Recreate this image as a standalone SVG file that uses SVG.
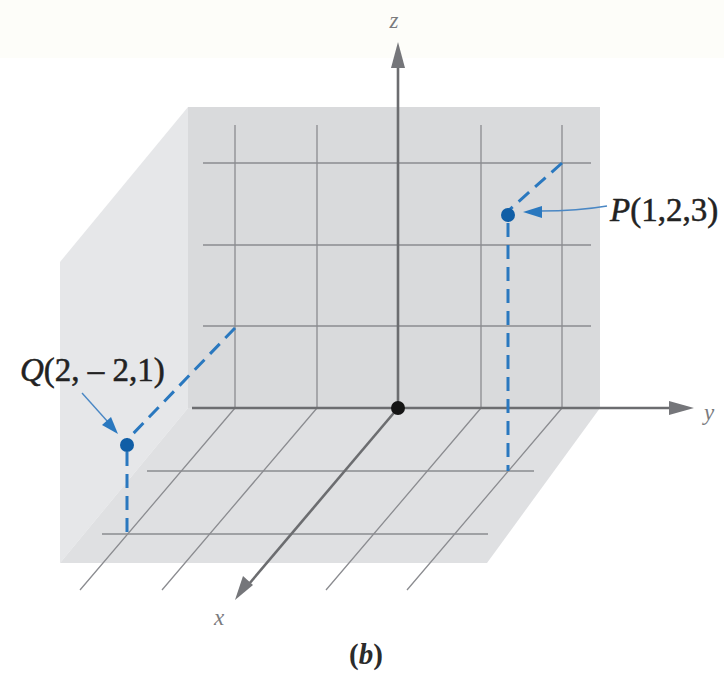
<svg xmlns="http://www.w3.org/2000/svg" width="724" height="675" viewBox="0 0 724 675">
<defs>
<style>
.grid{stroke:#8b8c90;stroke-width:1.3;fill:none}
.axis{stroke:#6c6d70;stroke-width:2.6;fill:none}
.head{fill:#75767a}
.dash{stroke:#2a78bf;stroke-width:3;stroke-dasharray:14 8;fill:none}
.lead{stroke:#4a87c4;stroke-width:1.4;fill:none}
.dot{fill:#105ea6}
.lbl{font-family:"Liberation Serif",serif;font-size:33px;fill:#222;stroke:#222;stroke-width:0.5}
.ax{font-family:"Liberation Serif",serif;font-style:italic;font-size:23px;fill:#7a7b7e}
</style>
</defs>
<rect width="724" height="675" fill="#ffffff"/>
<rect width="724" height="58" fill="#fdfdf9"/>
<g id="surfaces">
<polygon points="188,107 60,262 60,563 188,408" fill="#e6e7e9"/>
<rect x="188" y="107" width="412" height="301" fill="#d9dadc"/>
<polygon points="188,408 600,408 487,563 60,563" fill="#dfe0e2"/>
</g>
<g id="grid">
<path class="grid" d="M235,125V408 M317,125V408 M481,125V408 M562,125V408"/>
<path class="grid" d="M203,163H591 M203,245H591 M203,326H591"/>
<path class="grid" d="M235,408L80,590 M317,408L162,590 M481,408L326,590 M562,408L407,590"/>
<path class="grid" d="M147,471H534 M102,534H488"/>
</g>
<g id="connectors">
<line class="axis" x1="398" y1="408" x2="398" y2="64"/>
<polygon class="head" points="398,42 391,68 405,68"/>
<line class="axis" x1="192" y1="408" x2="674" y2="408"/>
<polygon class="head" points="694,408 669,401 669,415"/>
<line class="axis" x1="398" y1="408" x2="249" y2="584"/>
<polygon class="head" points="235,600 243,576 253,585"/>
<path class="dash" d="M562,163L508,211 M508,223V471"/>
<path class="dash" d="M235,328L127,440 M127,452V534"/>
<path class="lead" d="M607,206Q578,211 540,211"/>
<polygon fill="#2a78bf" points="523,212 542,206 542,218"/>
<line class="lead" x1="82" y1="393" x2="108" y2="422"/>
<polygon fill="#2a78bf" points="118,434 102,425 111,417"/>
</g>
<g id="origin"><circle cx="398" cy="408" r="7" fill="#151515"/></g>
<g id="P"><circle class="dot" cx="508" cy="215" r="7"/>
<text class="lbl" x="610" y="221"><tspan font-style="italic">P</tspan>(1,2,3)</text></g>
<g id="Q"><circle class="dot" cx="127" cy="445" r="7"/>
<text class="lbl" x="20" y="381"><tspan font-style="italic">Q</tspan>(2, – 2,1)</text></g>
<g id="labels">
<text class="ax" x="394" y="28" text-anchor="middle">z</text>
<text class="ax" x="704" y="420">y</text>
<text class="ax" x="214" y="625">x</text>
<text x="366" y="664" text-anchor="middle" font-family="Liberation Serif,serif" font-size="29" font-weight="bold" fill="#2b2b2b">(<tspan font-style="italic">b</tspan>)</text>
</g>
</svg>
